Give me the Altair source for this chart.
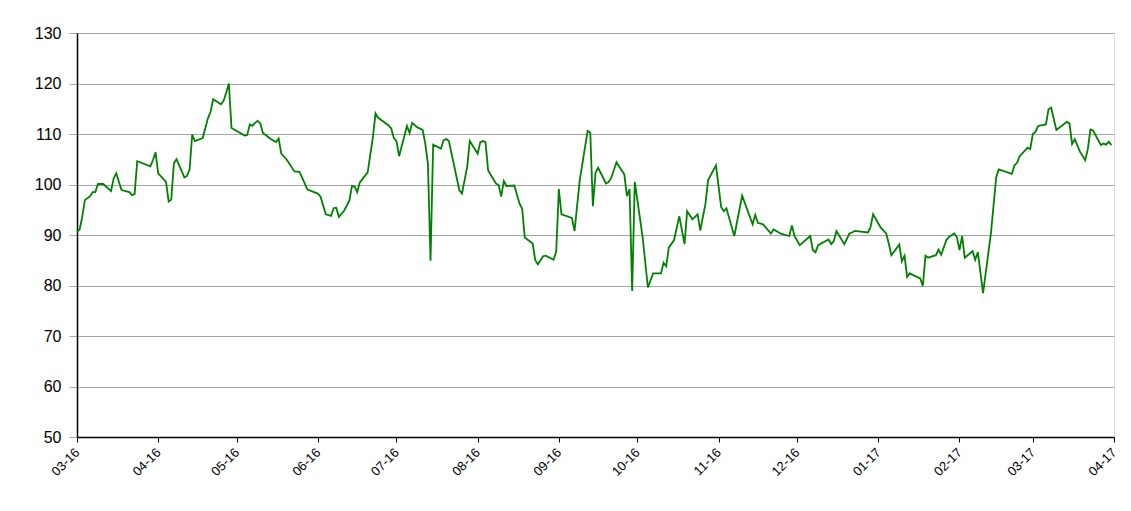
import altair as alt
import pandas as pd

# day offsets from 2016-03-01 and index values
days = [0,1,2,3,5,6,7,8,10,13,14,15,17,20,21,22,23,28,29,30,31,34,35,36,37,38,41,42,43,44,45,48,50,51,52,55,56,57,58,59,
        64,65,66,67,68,69,70,71,74,76,77,78,80,83,85,88,92,93,95,97,98,99,100,102,104,105,106,107,108,111,113,114,115,
        119,120,121,122,123,126,127,128,130,132,133,134,135,136,139,140,141,142,146,147,149,150,153,154,155,156,157,
        160,161,162,163,164,167,169,170,171,174,175,176,178,179,182,183,184,185,189,190,192,195,196,197,198,199,
        202,203,204,206,209,210,211,212,213,216,218,220,223,224,225,226,228,230,232,233,235,237,238,240,241,244,
        246,247,248,251,254,258,259,260,262,265,266,269,272,273,274,276,280,281,282,283,287,288,289,290,293,295,
        296,297,302,303,304,307,309,310,311,314,315,316,317,318,322,323,324,325,328,329,330,332,333,335,336,337,
        338,339,342,343,344,346,349,351,352,357,358,359,360,363,364,365,366,367,370,371,372,374,378,379,380,381,
        383,385,386,387,388,391,392,393,394,395]

values = [90.6,91.1,93.6,96.9,97.7,98.5,98.5,100.1,100.1,98.7,101.2,102.2,98.9,98.5,97.9,98.1,104.6,103.6,104.8,106.4,
          102.2,100.5,96.6,97.0,104.2,105.0,101.4,101.7,103.0,109.9,108.6,109.2,113.1,114.4,116.9,115.9,116.6,118.2,
          120.0,111.2,109.7,109.8,111.9,111.6,112.2,112.6,112.1,110.2,109.0,108.4,109.1,106.1,105.0,102.6,102.5,99.0,
          98.2,97.6,94.1,93.8,95.3,95.4,93.6,94.8,96.8,99.7,99.6,98.5,100.4,102.4,109.4,114.1,113.2,111.7,111.1,109.2,
          108.6,105.6,111.6,110.2,112.2,111.3,110.8,108.1,104.2,84.9,107.9,107.1,108.8,109.0,108.6,98.9,98.2,103.5,
          108.6,106.1,108.4,108.6,108.4,102.8,100.2,99.9,97.6,100.7,99.7,99.8,96.2,95.2,89.5,88.3,85.0,84.2,85.8,85.9,
          85.1,86.7,99.1,94.1,93.4,90.8,100.9,110.6,110.3,95.7,102.3,103.3,100.2,100.5,101.3,104.4,102.0,97.7,99.1,
          78.9,100.5,89.6,79.6,82.4,82.4,84.5,83.8,87.5,89.0,93.7,88.2,94.7,93.1,94.1,90.9,96.2,100.9,103.8,95.5,94.7,
          95.3,89.8,97.8,92.1,94.0,92.4,92.1,90.3,91.1,90.2,89.8,91.9,89.8,88.0,89.8,87.0,86.6,88.0,89.1,88.2,88.8,
          90.8,88.2,90.3,90.5,90.8,90.5,91.5,94.1,91.4,90.3,88.3,86.0,88.1,84.8,85.9,81.7,82.4,81.4,79.9,85.9,85.5,
          86.0,87.1,86.1,89.0,89.6,90.3,89.6,87.0,89.8,85.5,86.8,85.1,86.6,78.5,90.3,101.4,103.0,102.1,103.8,104.3,
          105.6,107.3,107.0,110.0,110.4,111.6,111.9,114.9,115.2,110.8,112.4,112.1,108.0,109.0,106.5,104.8,107.0,
          110.9,110.7,107.8,108.1,107.9,108.5,107.8]

y_ticks = [50, 60, 70, 80, 90, 100, 110, 120, 130]

start = pd.Timestamp("2016-03-01")
df = pd.DataFrame({
    "date": start + pd.to_timedelta(days, unit="D"),
    "value": values,
})

font = "Liberation Sans"

chart = alt.Chart(df).mark_line(color="#008000", strokeWidth=1.8).encode(
    x=alt.X(
        "date:T",
        title=None,
        scale=alt.Scale(domain=[alt.DateTime(year=2016, month=3, date=1),
                                alt.DateTime(year=2017, month=4, date=1)]),
        axis=alt.Axis(
            format="%m-%y",
            tickCount={"interval": "month", "step": 1},
            grid=False,
            labelAngle=315,
            labelAlign="right",
            labelBaseline="middle",
            labelFont=font,
            labelFontSize=13,
            labelColor="black",
            labelPadding=8,
            tickSize=5,
            tickColor="#000000",
            domainColor="#000000",
            domainWidth=1.5,
            labelFlush=False,
            labelOverlap=False,
        ),
    ),
    y=alt.Y(
        "value:Q",
        title=None,
        scale=alt.Scale(domain=[50, 130], nice=False, zero=False),
        axis=alt.Axis(
            values=y_ticks,
            grid=True,
            gridColor="#a6a6a6",
            gridWidth=1,
            labelFont=font,
            labelFontSize=16,
            labelColor="black",
            labelPadding=8,
            tickSize=8,
            tickColor="#a6a6a6",
            domainColor="#000000",
            domainWidth=1.5,
        ),
    ),
).properties(
    width=1037,
    height=404,
    autosize=alt.AutoSizeParams(type="none"),
    padding={"left": 69, "top": 25, "right": 9, "bottom": 60},
).configure_view(
    stroke="#959595",
    strokeWidth=2,
).configure(
    background="white",
)

chart.save("out.html", embed_options={"renderer": "svg", "actions": False})
